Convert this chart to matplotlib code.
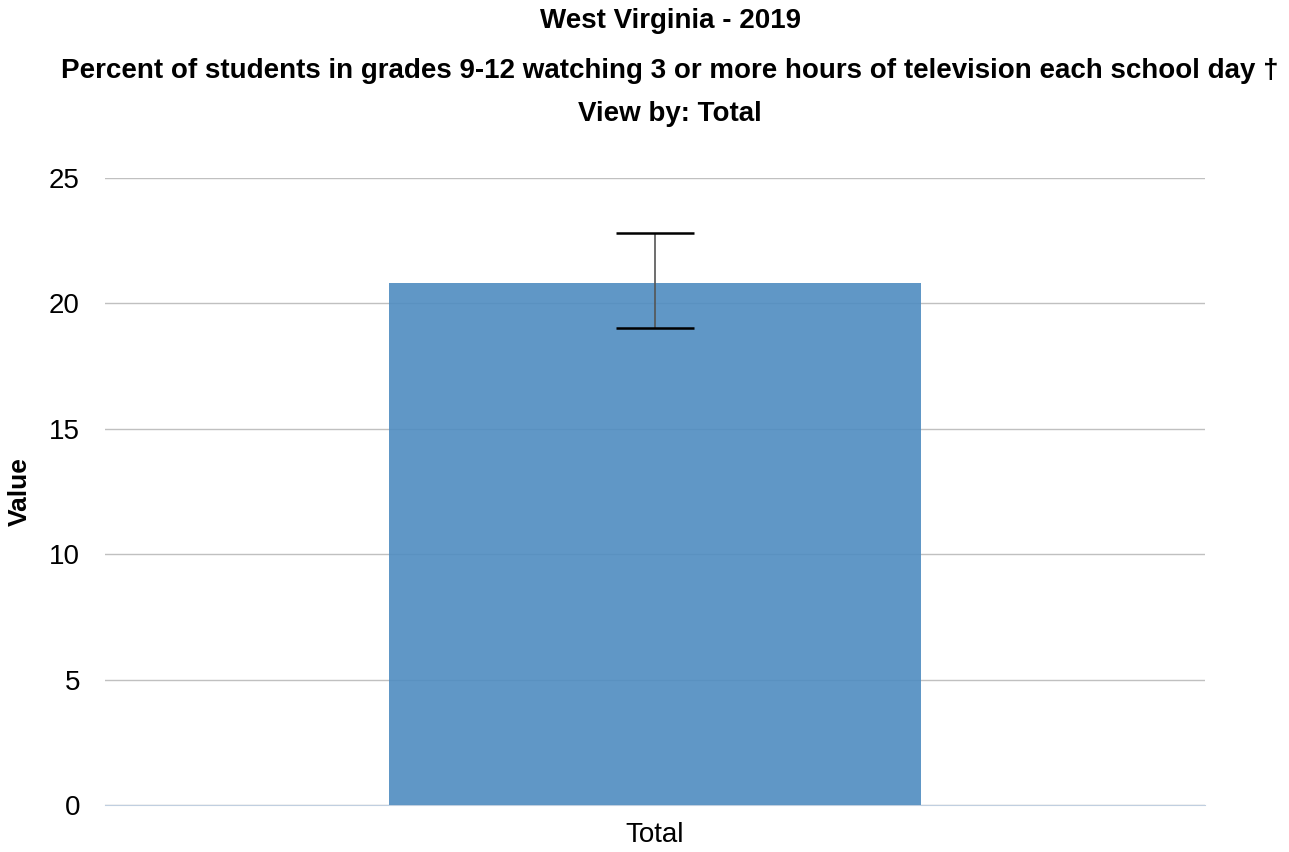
import matplotlib
matplotlib.use("Agg")
from matplotlib import pyplot as plt

plt.rcParams['font.family'] = ['Liberation Sans', 'DejaVu Sans']

categories = ["Total"]
values = [20.8]
lower = [19.0]
upper = [22.8]
y_ticks = [0, 5, 10, 15, 20, 25]

err_low = [v - l for v, l in zip(values, lower)]
err_high = [u - v for u, v in zip(upper, values)]

fig = plt.figure(figsize=(12.89, 8.52), dpi=100)
ax = fig.add_axes([105 / 1289, 47 / 852, 1100 / 1289, 627 / 852])

x = list(range(len(categories)))
ax.bar(x, values, width=0.483, color="#4f8cc0", alpha=0.9, zorder=2)
eb = ax.errorbar(x, values, yerr=[err_low, err_high], fmt="none", ecolor="#555555",
                 elinewidth=1.2, capsize=28.4, capthick=1.8, zorder=3)
# caps black, stem grey
for cap in eb[1]:
    cap.set_markeredgecolor("black")

ax.set_xlim(-0.5, 0.5)
ax.set_ylim(0, 25)
ax.set_yticks(y_ticks)
ax.set_xticks(x)
ax.set_xticklabels(categories)
ax.tick_params(axis="both", length=0, labelsize=20, pad=18)
ax.tick_params(axis="x", pad=12)
ax.grid(axis="y", color="#c0c0c0", linewidth=1, zorder=1)
for s in ["top", "right", "left"]:
    ax.spines[s].set_visible(False)
ax.spines["bottom"].set_color("#c0cfe0")
ax.spines["bottom"].set_zorder(1)
ax.set_ylabel("Value", fontsize=19, fontweight="bold", va="center")
ax.yaxis.set_label_coords(-85 / 1100, 0.5)

fig.text(670 / 1289, 1 - 21 / 852, "West Virginia - 2019", ha="center", va="center",
         fontsize=20, fontweight="bold")
fig.text(670 / 1289, 1 - 71 / 852,
         "Percent of students in grades 9-12 watching 3 or more hours of television each school day \u2020",
         ha="center", va="center", fontsize=20, fontweight="bold")
fig.text(670 / 1289, 1 - 114 / 852, "View by: Total", ha="center", va="center",
         fontsize=20, fontweight="bold")

plt.savefig("out.png", dpi=100)
